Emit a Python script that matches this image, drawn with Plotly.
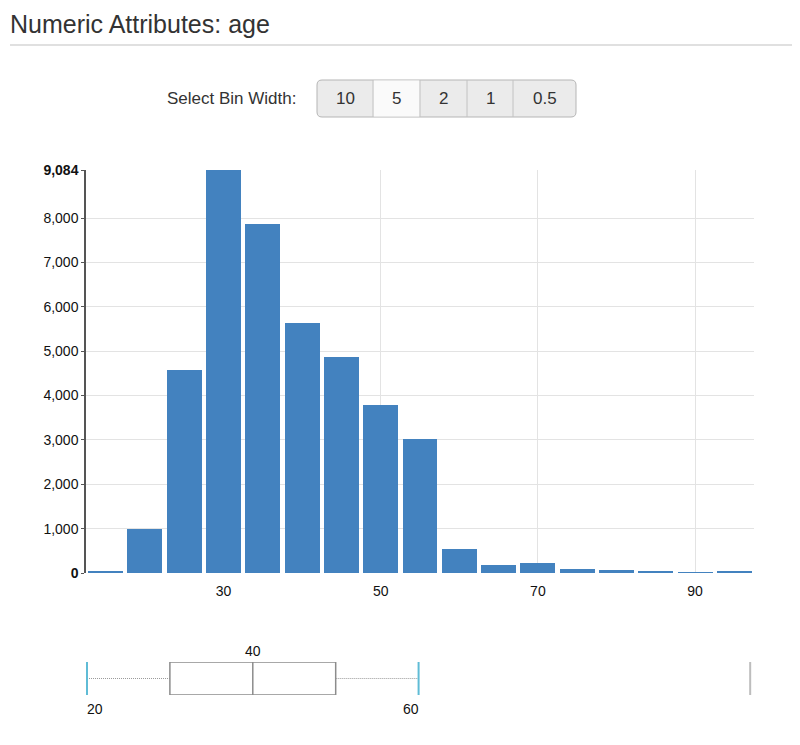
import plotly.graph_objects as go

# ---------------- data ----------------
bin_centers = [15, 20, 25, 30, 35, 40, 45, 50, 55, 60, 65, 70, 75, 80, 85, 90, 95]
counts = [25, 990, 4580, 9084, 7860, 5630, 4870, 3790, 3030, 545, 180, 224, 81, 74, 45, 22, 52]
bin_width = 5

x_tick_vals = [30, 50, 70, 90]
y_tick_vals = [0, 1000, 2000, 3000, 4000, 5000, 6000, 7000, 8000, 9084]
y_tick_text = ["<b>0</b>", "1,000", "2,000", "3,000", "4,000", "5,000", "6,000",
               "7,000", "8,000", "<b>9,084</b>"]

# box summary (as shown in the reference)
box_lowerfence = 20
box_q1 = 30
box_median = 40
box_q3 = 50
box_upperfence = 60
box_extreme = 100

button_labels = ["10", "5", "2", "1", "0.5"]
active_button = "5"

# ---------------- layout helpers ----------------
OFF = 8                      # page body margin of the html page
W, H = 800 - OFF, 745 - OFF
# plot area in page pixels: x 86..754, y 170..720
ML = 86 - OFF
MR = W - (754 - OFF)
MT = 170 - OFF
MB = H - (720 - OFF)
PW, PH = W - ML - MR, H - MT - MB


def px(xp):          # page px -> paper x
    return (xp - OFF - ML) / PW


def py(yp):          # page px -> paper y
    return (H - MB - (yp - OFF)) / PH


BAR_COLOR = "#4382bf"
GRID = "#e3e3e3"
FONT = "Liberation Sans, Arial, sans-serif"
TXT = "#111"

fig = go.Figure()

fig.add_trace(go.Bar(
    x=bin_centers, y=counts, width=bin_width * 0.89,
    marker=dict(color=BAR_COLOR, line=dict(width=0)),
    xaxis="x", yaxis="y", showlegend=False,
    hovertemplate="age %{x}: %{y:,}<extra></extra>",
))

# ---- box plot (drawn on its own axes) ----
fig.add_trace(go.Scatter(
    x=[box_lowerfence, box_q1], y=[0.5, 0.5], mode="lines",
    line=dict(color="#9a9a9a", width=1, dash="1px,1px"),
    xaxis="x2", yaxis="y2", showlegend=False, hoverinfo="skip"))
fig.add_trace(go.Scatter(
    x=[box_q3, box_upperfence], y=[0.5, 0.5], mode="lines",
    line=dict(color="#9a9a9a", width=1, dash="1px,1px"),
    xaxis="x2", yaxis="y2", showlegend=False, hoverinfo="skip"))
fig.add_trace(go.Scatter(
    x=[box_q1, box_q3, box_q3, box_q1, box_q1], y=[0, 0, 1, 1, 0], mode="lines",
    line=dict(color="#8c8c8c", width=1.5),
    xaxis="x2", yaxis="y2", showlegend=False, hoverinfo="skip"))
fig.add_trace(go.Scatter(
    x=[box_median, box_median], y=[0, 1], mode="lines",
    line=dict(color="#8c8c8c", width=1.5),
    xaxis="x2", yaxis="y2", showlegend=False, hoverinfo="skip"))
for v in [box_lowerfence, box_upperfence]:
    fig.add_trace(go.Scatter(
        x=[v, v], y=[0, 1], mode="lines",
        line=dict(color="#5fbcd6", width=2),
        xaxis="x2", yaxis="y2", showlegend=False, hoverinfo="skip"))
fig.add_trace(go.Scatter(
    x=[box_extreme, box_extreme], y=[0, 1], mode="lines",
    line=dict(color="#bdbdbd", width=2),
    xaxis="x2", yaxis="y2", showlegend=False, hoverinfo="skip"))

annotations = []
annotations.append(dict(x=box_median, y=1, xref="x2", yref="y2", text=str(box_median),
                        showarrow=False, xanchor="center", yanchor="bottom", yshift=1,
                        font=dict(size=14, color=TXT, family=FONT)))
annotations.append(dict(x=box_lowerfence, y=0, xref="x2", yref="y2", text=str(box_lowerfence),
                        showarrow=False, xanchor="left", yanchor="top", yshift=-4, xshift=-2,
                        font=dict(size=14, color=TXT, family=FONT)))
annotations.append(dict(x=box_upperfence, y=0, xref="x2", yref="y2", text=str(box_upperfence),
                        showarrow=False, xanchor="right", yanchor="top", yshift=-4, xshift=2,
                        font=dict(size=14, color=TXT, family=FONT)))

# ---- header: "Select Bin Width" with button group ----
annotations.append(dict(x=px(298), y=py(99), xref="paper", yref="paper",
                        text="Select Bin Width:", showarrow=False,
                        xanchor="right", yanchor="middle",
                        font=dict(size=17, color="#333", family=FONT)))

btn_widths_px = [56, 47, 47, 46, 63]
btn_left, btn_top, btn_bottom = 317, 80, 117
shapes = []
x0, x1 = btn_left, btn_left + sum(btn_widths_px)
r = 5
path = (f"M {px(x0 + r)} {py(btn_top)} L {px(x1 - r)} {py(btn_top)} "
        f"Q {px(x1)} {py(btn_top)} {px(x1)} {py(btn_top + r)} "
        f"L {px(x1)} {py(btn_bottom - r)} Q {px(x1)} {py(btn_bottom)} {px(x1 - r)} {py(btn_bottom)} "
        f"L {px(x0 + r)} {py(btn_bottom)} Q {px(x0)} {py(btn_bottom)} {px(x0)} {py(btn_bottom - r)} "
        f"L {px(x0)} {py(btn_top + r)} Q {px(x0)} {py(btn_top)} {px(x0 + r)} {py(btn_top)} Z")
shapes.append(dict(type="path", path=path, xref="paper", yref="paper",
                   fillcolor="#ebebeb", line=dict(color="#b5b5b5", width=1), layer="below"))
xl = btn_left
for lab, w in zip(button_labels, btn_widths_px):
    if lab == active_button:
        shapes.append(dict(type="rect", xref="paper", yref="paper",
                           x0=px(xl + 0.5), x1=px(xl + w - 0.5), y0=py(btn_bottom - 0.5), y1=py(btn_top + 0.5),
                           fillcolor="#fafafa", line=dict(width=0), layer="below"))
    if xl != btn_left:
        shapes.append(dict(type="line", xref="paper", yref="paper",
                           x0=px(xl), x1=px(xl), y0=py(btn_bottom), y1=py(btn_top),
                           line=dict(color="#c2c2c2", width=1)))
    annotations.append(dict(x=px(xl + w / 2), y=py((btn_top + btn_bottom) / 2), xref="paper", yref="paper",
                            text=lab, showarrow=False, xanchor="center", yanchor="middle",
                            font=dict(size=17, color="#333", family=FONT)))
    xl += w

# title underline
shapes.append(dict(type="line", xref="paper", yref="paper",
                   x0=px(10), x1=px(800), y0=py(45), y1=py(45),
                   line=dict(color="#d6d6d6", width=1.5)))

fig.update_layout(
    width=W, height=H,
    margin=dict(l=ML, r=MR, t=MT, b=MB, autoexpand=False),
    paper_bgcolor="white", plot_bgcolor="white",
    title=dict(text="Numeric Attributes: age", xref="container", yref="container",
               x=(10 - OFF) / W, y=1 - (24 - OFF) / H, xanchor="left", yanchor="middle",
               font=dict(size=25, color="#333", family=FONT)),
    bargap=0,
    xaxis=dict(domain=[0, 1], range=[12.5, 97.5], tickvals=x_tick_vals,
               showgrid=True, gridcolor=GRID, gridwidth=1, zeroline=False,
               showline=False, ticks="outside", ticklen=5, tickcolor="rgba(0,0,0,0)",
               anchor="y",
               tickfont=dict(size=14, color=TXT, family=FONT)),
    yaxis=dict(domain=[py(573), 1], range=[0, 9084], tickvals=y_tick_vals, ticktext=y_tick_text,
               showgrid=True, gridcolor=GRID, gridwidth=1, zeroline=False,
               showline=True, linecolor="#555", linewidth=1.5,
               ticks="outside", ticklen=3, tickcolor="#555",
               tickfont=dict(size=14, color=TXT, family=FONT)),
    xaxis2=dict(domain=[0, 1], range=[19.88, 100.46], visible=False, anchor="y2"),
    yaxis2=dict(domain=[py(695), py(662)], range=[0, 1], visible=False, anchor="x2"),
    annotations=annotations,
    shapes=shapes,
    hovermode="closest",
)

fig.write_html("out.html")
